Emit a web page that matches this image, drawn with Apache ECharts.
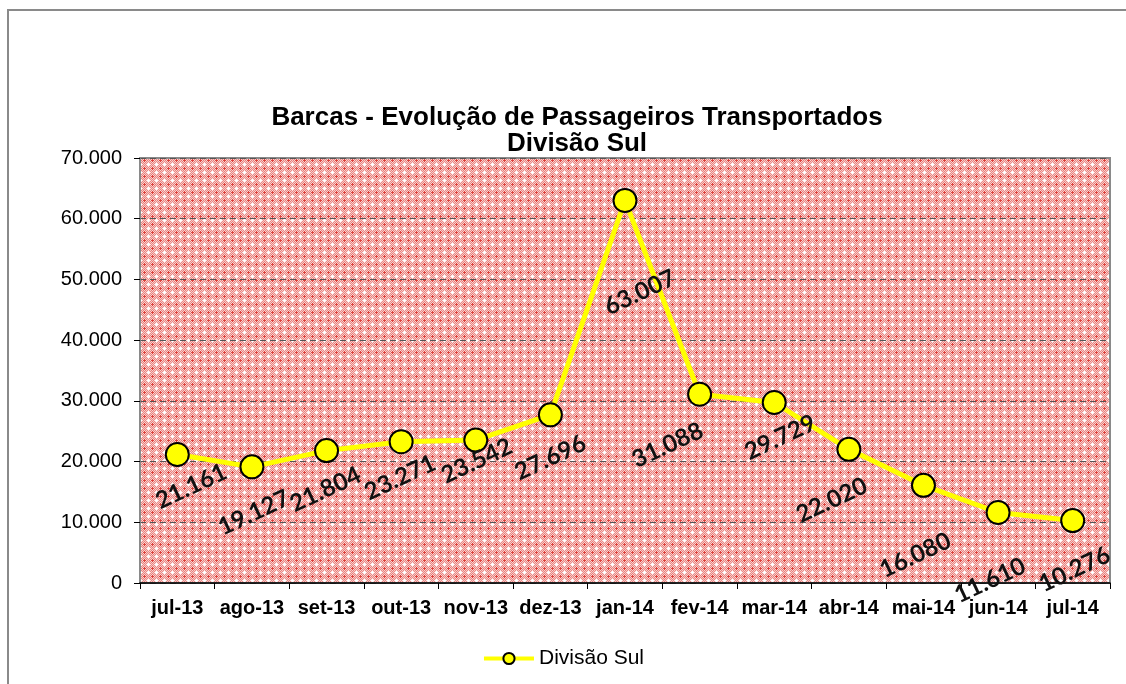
<!DOCTYPE html>
<html lang="pt">
<head>
	<meta charset="UTF-8">
	<title>Barcas - Divisão Sul</title>
	<script src="https://cdn.jsdelivr.net/npm/echarts@6/dist/echarts.min.js"></script>
	<style>
		html,body{margin:0;padding:0;width:100%;height:100%;background:#fff;}
		#chart{width:1126px;height:684px;}
	</style>
</head>
<body>
	<div id="chart"></div>
<script>
	var months = ['jul-13', 'ago-13', 'set-13', 'out-13', 'nov-13', 'dez-13', 'jan-14',
		'fev-14', 'mar-14', 'abr-14', 'mai-14', 'jun-14', 'jul-14'];
	var passageiros = [21161, 19127, 21804, 23271, 23542, 27696, 63007,
		31088, 29729, 22020, 16080, 11610, 10276];
	var yTicks = [0, 10000, 20000, 30000, 40000, 50000, 60000, 70000];

	// screen offset of each rotated label from its point (as Excel placed them)
	var labelOffsets = [[14, 32], [2, 46], [-1, 39], [-1, 36], [1, 21], [0, 43], [15, 92],
		[-32, 51], [6, 35], [-17, 51], [-8, 70], [-8, 68], [2, 49]];
	var labelAngle = 25;

	function fmt(v) {
		return String(v).replace(/\B(?=(\d{3})+(?!\d))/g, '.');
	}

	// echarts rotates the offset together with the text, so undo that
	function unrotate(o) {
		var a = labelAngle * Math.PI / 180;
		return [o[0] * Math.cos(a) - o[1] * Math.sin(a), o[0] * Math.sin(a) + o[1] * Math.cos(a)];
	}

	// cross-hatch fill of the plot area
	function makePattern() {
		var c = document.createElement('canvas');
		c.width = 8; c.height = 8;
		var ctx = c.getContext('2d');
		for (var y = 0; y < 8; y++) {
			for (var x = 0; x < 8; x++) {
				var d = Math.abs(x - 4) + Math.abs(y - 4);
				var col;
				if (d <= 1) col = '#ffffff';
				else if (d == 2) col = '#fce3e2';
				else if (d == 3) col = '#ea8b87';
				else if (d == 4) col = '#f7cac8';
				else if (d == 5) col = '#e97f7b';
				else if (d == 6) col = '#f8d3d1';
				else col = '#de423c';
				ctx.fillStyle = col;
				ctx.fillRect(x, y, 1, 1);
			}
		}
		return c;
	}

	var myChart = echarts.init(document.getElementById('chart'));

	var seriesData = [];
	for (var i = 0; i < passageiros.length; i++) {
		seriesData.push({
			value: passageiros[i],
			label: { offset: unrotate(labelOffsets[i]) }
		});
	}

	var options = {
		animation: false,
		graphic: [{
			type: 'rect',
			shape: { x: 8, y: 10, width: 2000, height: 1500 },
			style: { fill: 'none', stroke: '#8a8a8a', lineWidth: 2 },
			silent: true
		}],
		title: {
			text: 'Barcas - Evolução de Passageiros Transportados\nDivisão Sul',
			left: 572,
			textAlign: 'center',
			top: 100,
			textStyle: {
				fontFamily: 'Liberation Sans',
				fontWeight: 'bold',
				fontSize: 26,
				lineHeight: 26,
				color: '#000'
			}
		},
		legend: {
			bottom: 10,
			left: 'center',
			itemWidth: 50,
			itemHeight: 14,
			itemGap: 6,
			lineStyle: { width: 4 },
			textStyle: { fontFamily: 'Liberation Sans', fontSize: 21, color: '#000' },
			data: ['Divisão Sul']
		},
		grid: {
			left: 140,
			right: 16,
			top: 158,
			bottom: 101,
			show: true,
			backgroundColor: { image: makePattern(), repeat: 'repeat' },
			borderColor: '#8a8a8a',
			borderWidth: 2
		},
		xAxis: {
			type: 'category',
			data: months,
			boundaryGap: true,
			axisLine: { lineStyle: { color: '#000', width: 1.5 } },
			axisTick: { show: true, interval: 0, length: 6, lineStyle: { color: '#000' } },
			axisLabel: {
				interval: 0,
				margin: 15,
				fontFamily: 'Liberation Sans',
				fontWeight: 'bold',
				fontSize: 20,
				color: '#000'
			}
		},
		yAxis: {
			type: 'value',
			min: yTicks[0],
			max: yTicks[yTicks.length - 1],
			interval: 10000,
			axisLine: { show: true, lineStyle: { color: '#8a8a8a', width: 1.5 } },
			axisTick: { show: true, length: 6, lineStyle: { color: '#000' } },
			axisLabel: {
				margin: 18,
				fontFamily: 'Liberation Sans',
				fontSize: 20,
				color: '#000',
				formatter: function (v) { return fmt(v); }
			},
			splitLine: { show: true, lineStyle: { color: '#555', type: [6, 4], width: 1 } }
		},
		series: [{
			name: 'Divisão Sul',
			type: 'line',
			data: seriesData,
			symbol: 'circle',
			symbolSize: 23,
			lineStyle: { color: '#ffff00', width: 5 },
			itemStyle: { color: '#ffff00', borderColor: '#000', borderWidth: 2 },
			label: {
				show: true,
				position: 'inside',
				rotate: labelAngle,
				fontFamily: 'Lato',
				fontWeight: 'bold',
				fontSize: 24,
				color: '#111',
				formatter: function (p) { return fmt(p.value); }
			},
			z: 3
		}]
	};
	myChart.setOption(options);
</script>
</body>
</html>
